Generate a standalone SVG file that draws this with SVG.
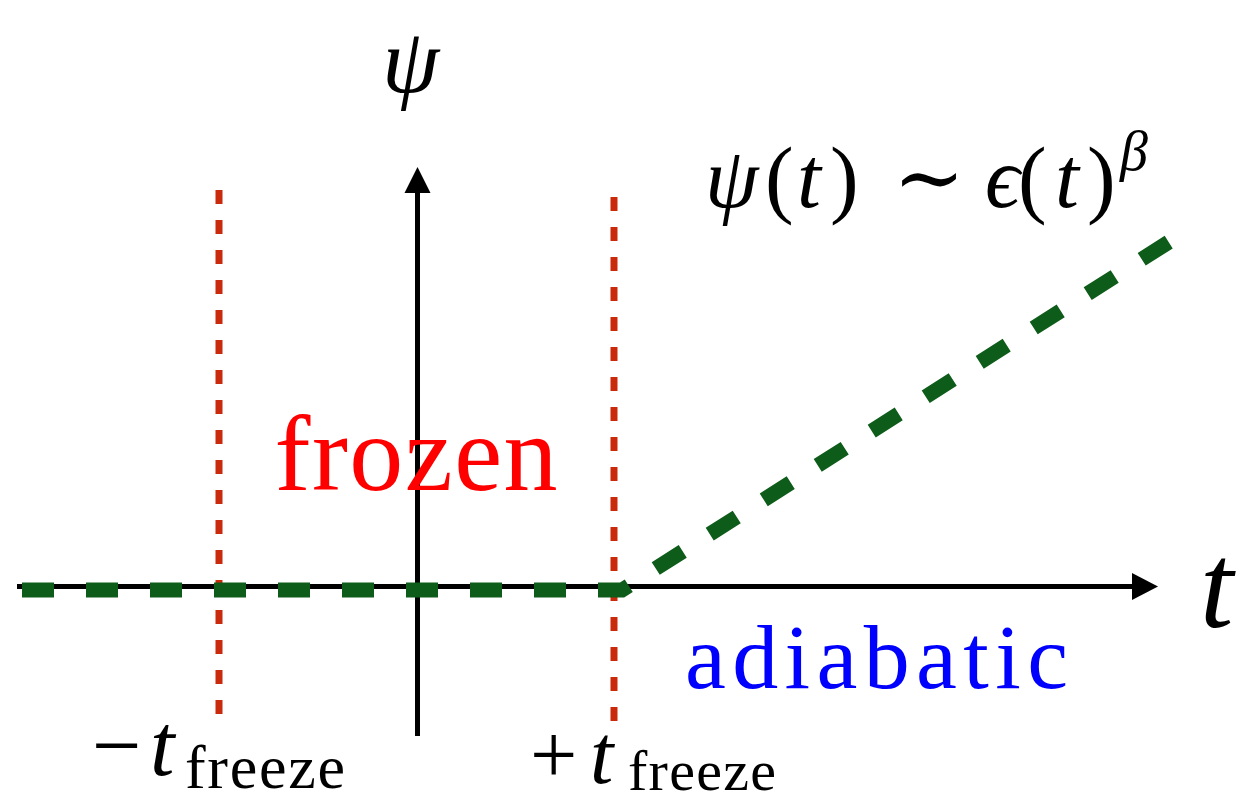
<svg xmlns="http://www.w3.org/2000/svg" width="1239" height="804" viewBox="0 0 1239 804">
<style>
.ax{stroke:#000;stroke-width:5;fill:none}
.ah{fill:#000}
.red{stroke:#c92a0c;stroke-width:7;stroke-dasharray:14 16;fill:none}
.grn{stroke:#0e5c1a;stroke-width:15;stroke-dasharray:32 32;fill:none;stroke-linejoin:miter;stroke-miterlimit:10}
text{font-family:'Liberation Serif','Times New Roman','DejaVu Serif',serif}
.i{font-style:italic}
</style>
<rect width="1239" height="804" fill="#fff"/>
<g id="axes">
<line class="ax" x1="17" y1="586.5" x2="1134" y2="586.5"/>
<polygon class="ah" points="1132,573 1158,586.5 1132,600"/>
<line class="ax" x1="417.5" y1="736" x2="417.5" y2="191"/>
<polygon class="ah" points="404.5,193 417.5,167 430.5,193"/>
</g>
<g id="freeze-lines">
<line class="red" x1="219" y1="190" x2="219" y2="716"/>
<line class="red" x1="614" y1="197" x2="614" y2="722"/>
</g>
<g id="curve">
<polyline class="grn" points="22,590 622,590 1172,240"/>
</g>
<g id="labels" font-family="Liberation Serif, Times New Roman, serif">
<text class="i" x="382" y="92" font-size="92" fill="#000">ψ</text>
<text class="i" x="1200" y="627" font-size="120" fill="#000">t</text>
<text x="416" y="490" font-size="108" fill="#ff0000" text-anchor="middle" textLength="283">frozen</text>
<text x="685" y="688" font-size="92" fill="#0000ff" textLength="383">adiabatic</text>
<text font-size="86" y="207" fill="#000"><tspan class="i" x="705">ψ</tspan><tspan x="765">(</tspan><tspan class="i" x="797">t</tspan><tspan x="830">)</tspan><tspan x="893">∼</tspan><tspan class="i" x="985">ϵ</tspan><tspan x="1018">(</tspan><tspan class="i" x="1055">t</tspan><tspan x="1087">)</tspan></text>
<text class="i" x="1120" y="170" font-size="56" fill="#000">β</text>
<text y="775" font-size="88" fill="#000"><tspan x="92">−</tspan><tspan class="i" x="150">t</tspan></text>
<text x="185" y="788" font-size="62" fill="#000" textLength="160">freeze</text>
<text y="783" font-size="84" fill="#000"><tspan x="530">+</tspan><tspan class="i" x="590">t</tspan></text>
<text x="628" y="790" font-size="58" fill="#000" textLength="148">freeze</text>
</g>
</svg>
